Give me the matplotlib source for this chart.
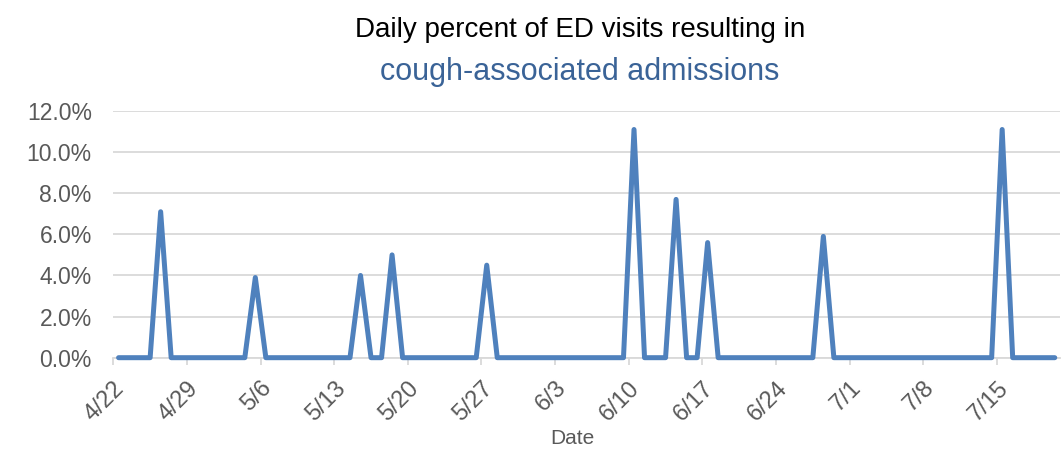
import numpy as np
import pandas as pd
import matplotlib
matplotlib.use("Agg")
import matplotlib.pyplot as plt
import matplotlib.dates as mdates
from matplotlib.ticker import FuncFormatter

# daily values, 4/22 .. 7/20
dates = pd.date_range("2020-04-22", periods=90, freq="D")
pct = [0, 0, 0, 0, 7.1, 0, 0, 0, 0, 0,
       0, 0, 0, 3.9, 0, 0, 0, 0, 0, 0,
       0, 0, 0, 4.0, 0, 0, 5.0, 0, 0, 0,
       0, 0, 0, 0, 0, 4.5, 0, 0, 0, 0,
       0, 0, 0, 0, 0, 0, 0, 0, 0, 11.1,
       0, 0, 0, 7.7, 0, 0, 5.6, 0, 0, 0,
       0, 0, 0, 0, 0, 0, 0, 5.9, 0, 0,
       0, 0, 0, 0, 0, 0, 0, 0, 0, 0,
       0, 0, 0, 0, 11.1, 0, 0, 0, 0, 0]
tick_dates = pd.date_range("2020-04-22", "2020-07-15", freq="7D")
yticks = [0, 2, 4, 6, 8, 10, 12]

plt.rcParams['font.family'] = ['Liberation Sans', 'DejaVu Sans']
gray = '#595959'

fig = plt.figure(figsize=(10.63, 4.53), dpi=100)
ax = fig.add_axes([0.1066, 0.2104, 0.8906, 0.5446])

# points sit in the middle of each day, ticks on day boundaries
x = dates + pd.Timedelta(hours=12)
ax.plot(x, pct, color='#4f81bd', lw=3.6, solid_joinstyle='round',
        solid_capstyle='round', zorder=3, clip_on=False)

ax.set_xlim(dates[0], dates[-1] + pd.Timedelta(days=1))
ax.set_ylim(0, 12)
ax.set_yticks(yticks)
ax.yaxis.set_major_formatter(FuncFormatter(lambda v, p: f"{v:.1f}%"))
ax.set_xticks(tick_dates)
ax.set_xticklabels([f"{d.month}/{d.day}" for d in tick_dates],
                   rotation=45, ha='right', rotation_mode='anchor')

ax.grid(axis='y', color='#d9d9d9', lw=1.3)
ax.set_axisbelow(True)
for s in ['top', 'right', 'left']:
    ax.spines[s].set_visible(False)
ax.spines['bottom'].set_color('#d9d9d9')
ax.spines['bottom'].set_linewidth(1.3)
ax.tick_params(axis='y', length=0, labelsize=16.5, labelcolor=gray, pad=15.5)
ax.tick_params(axis='x', length=5, color='#d9d9d9', width=1.3,
               labelsize=17, labelcolor=gray, pad=9)

fig.text(0.5456, 0.934, "Daily percent of ED visits resulting in",
         ha='center', va='center', fontsize=20, color='black')
fig.text(0.5456, 0.84, "cough-associated admissions",
         ha='center', va='center', fontsize=22, color='#3a6397')
fig.text(0.538, 0.033, "Date", ha='center', va='center',
         fontsize=15, color=gray)

fig.savefig("out.png", dpi=100)
